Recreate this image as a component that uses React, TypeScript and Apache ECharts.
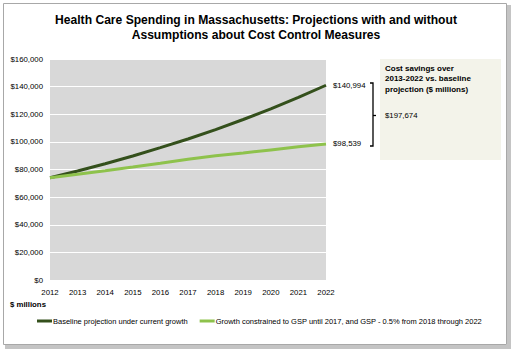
import React, { useEffect, useRef } from "react";
import * as echarts from "echarts";

const years = ["2012", "2013", "2014", "2015", "2016", "2017", "2018", "2019", "2020", "2021", "2022"];
const baseline = [74000, 78900, 84200, 89800, 95800, 102100, 108900, 116200, 123900, 132200, 140994];
const constrained = [74000, 76500, 79100, 81800, 84600, 87500, 89900, 92000, 94200, 96400, 98539];
const seriesNames = [
  "Baseline projection under current growth",
  "Growth constrained to GSP until 2017, and GSP - 0.5% from 2018 through 2022",
];
const titleLines = [
  "Health Care Spending in Massachusetts: Projections with and without",
  "Assumptions about Cost Control Measures",
];
const savingsTitle = ["Cost savings over", "2013-2022 vs. baseline", "projection ($ millions)"];
const savingsValue = "$197,674";
const unitLabel = "$ millions";

const FONT = "'Liberation Sans', Arial, Helvetica, sans-serif";
const fmt = (v: number) => "$" + Math.round(v).toLocaleString("en-US");

export default function App() {
  const ref = useRef<HTMLDivElement>(null);
  useEffect(() => {
    if (!ref.current) return;
    const chart = echarts.init(ref.current, undefined, { renderer: "svg" });
    chart.setOption({
      animation: false,
      backgroundColor: "#ffffff",
      textStyle: { fontFamily: FONT },
      title: {
        text: titleLines.join("\n"),
        left: 256,
        top: 12,
        padding: 0,
        textAlign: "center",
        textStyle: { fontFamily: FONT, fontWeight: "bold", fontSize: 12.1, lineHeight: 15, color: "#000" },
      },
      grid: {
        left: 50,
        right: 186,
        top: 59,
        bottom: 70,
        show: true,
        backgroundColor: "#d8d8d8",
        borderWidth: 0,
      },
      legend: {
        left: 37,
        top: 317,
        padding: 0,
        width: 480,
        orient: "horizontal",
        itemWidth: 15,
        itemHeight: 3,
        itemGap: 12,
        icon: "rect",
        textStyle: { fontFamily: FONT, fontSize: 7.5, color: "#000", padding: [0, 0, 0, -4] },
        data: seriesNames,
      },
      xAxis: {
        type: "category",
        data: years,
        boundaryGap: false,
        axisLine: { show: false },
        axisTick: { show: false },
        axisLabel: { fontFamily: FONT, fontSize: 7.8, color: "#000", margin: 8 },
        splitLine: { show: false },
      },
      yAxis: {
        type: "value",
        min: 0,
        max: 160000,
        interval: 20000,
        axisLine: { show: false },
        axisTick: { show: false },
        axisLabel: { fontFamily: FONT, fontSize: 7.8, color: "#000", margin: 7, formatter: (v: number) => fmt(v) },
        splitLine: { show: true, lineStyle: { color: "#ffffff", width: 1 } },
      },
      series: [
        {
          name: seriesNames[0],
          type: "line",
          data: baseline,
          symbol: "none",
          lineStyle: { color: "#34501c", width: 3 },
          itemStyle: { color: "#34501c" },
          endLabel: {
            show: true,
            formatter: (p: any) => fmt(p.value),
            fontFamily: FONT,
            fontSize: 7.8,
            color: "#000",
            distance: 7,
          },
        },
        {
          name: seriesNames[1],
          type: "line",
          data: constrained,
          symbol: "none",
          lineStyle: { color: "#8ec24c", width: 3 },
          itemStyle: { color: "#8ec24c" },
          endLabel: {
            show: true,
            formatter: (p: any) => fmt(p.value),
            fontFamily: FONT,
            fontSize: 7.8,
            color: "#000",
            distance: 7,
          },
        },
      ],
      graphic: [
        { type: "rect", shape: { x: 507, y: 5, width: 4, height: 344 }, style: { fill: "#c4c4c4" }, silent: true },
        { type: "rect", shape: { x: 5, y: 345, width: 506, height: 4 }, style: { fill: "#c4c4c4" }, silent: true },
        { type: "rect", shape: { x: 3.5, y: 3.5, width: 503, height: 341 }, style: { fill: "none", stroke: "#a8a8a8", lineWidth: 1 }, silent: true },
        { type: "rect", shape: { x: 380, y: 59, width: 121, height: 101 }, style: { fill: "#f3f3ea" }, silent: true },
        {
          type: "text",
          left: 385,
          top: 63,
          style: { text: savingsTitle.join("\n"), fontFamily: FONT, fontWeight: "bold", fontSize: 8, lineHeight: 10.5, fill: "#000" },
        },
        {
          type: "text",
          left: 385,
          top: 111,
          style: { text: savingsValue, fontFamily: FONT, fontSize: 7.8, fill: "#000" },
        },
        {
          type: "polyline",
          shape: { points: [[370, 83], [373, 83], [373, 146], [370, 146]] },
          style: { stroke: "#000", lineWidth: 1.3, fill: "none" },
          silent: true,
        },
        {
          type: "line",
          shape: { x1: 373, y1: 115.5, x2: 376, y2: 115.5 },
          style: { stroke: "#000", lineWidth: 1.3 },
          silent: true,
        },
        {
          type: "text",
          left: 10,
          top: 300,
          style: { text: unitLabel, fontFamily: FONT, fontWeight: "bold", fontSize: 7.8, fill: "#000" },
        },
      ],
    });
    return () => chart.dispose();
  }, []);
  return <div ref={ref} style={{ position: "fixed", left: 0, top: 0, width: 512, height: 350 }} />;
}
